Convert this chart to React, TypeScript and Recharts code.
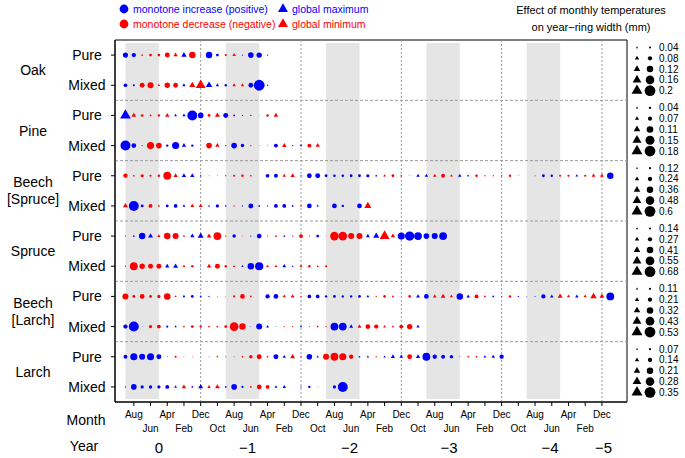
import React from 'react';
import { ScatterChart, Scatter, XAxis, YAxis, ReferenceArea, ReferenceLine } from 'recharts';

// ---------- categories / labels ----------
const groupNames = ['Oak', 'Pine', 'Beech\n[Spruce]', 'Spruce', 'Beech\n[Larch]', 'Larch'];
const standTypes = ['Pure', 'Mixed'];
const monthNames = ['Aug', 'Jun', 'Apr', 'Feb', 'Dec', 'Oct'];
const yearLabels = ['0', '\u22121', '\u22122', '\u22123', '\u22124', '\u22125'];
const yearPos = [3.0, 13.6, 25.8, 37.7, 49.8, 56.2]; // month index under which the year label sits
const legendValues = [
  [0.04, 0.08, 0.12, 0.16, 0.2],
  [0.04, 0.07, 0.11, 0.15, 0.18],
  [0.12, 0.24, 0.36, 0.48, 0.6],
  [0.14, 0.27, 0.41, 0.55, 0.68],
  [0.11, 0.21, 0.32, 0.43, 0.53],
  [0.07, 0.14, 0.21, 0.28, 0.35],
];
const FIRST_MONTH = -1; // months counted backwards from August of year 0
const summerBands = [[-1, 3], [11, 15], [23, 27], [35, 39], [47, 51]];
const decLines = [8, 20, 32, 44, 56];

// ---------- series (effect in mm, + increase / - decrease; 'o' monotone, '^' global extreme) ----------
const oakPure = [0.096, 0.08, -0.032, -0.052, -0.048, -0.092, -0.059, 0.074, -0.12, -0.024, 0.12, 0.052, -0.04, -0.047, 0.024, 0.104, 0.1, 0.024];
const oakPureShape = 'oooooo^^ooooo^oooo';
const oakMixed = [0.068, 0.04, -0.092, -0.112, -0.033, -0.1, -0.088, 0.045, -0.083, -0.136, 0.089, 0.045, 0.044, -0.047, -0.045, 0.088, 0.2, 0.024];
const oakMixedShape = 'oooo^oo^^^^^o^^ooo';
const pinePure = [0.133, -0.058, -0.043, -0.029, -0.04, -0.053, 0.035, 0.04, 0.166, 0.094, -0.047, -0.061, 0.083, 0.029, 0.022, 0.022, -0.014, -0.043, -0.056];
const pinePureShape = '^^ooo^^^ooo^oooooo^';
const pineMixed = [0.166, 0.079, -0.022, -0.119, -0.094, 0.04, 0.119, 0.053, 0.04, null, -0.094, -0.053, 0.022, 0.094, 0.058, -0.022, 0.014, 0.014, 0.065, -0.056, 0.022, 0.032, -0.065, -0.053];
const pineMixedShape = 'ooooooo^o.o^ooooooo^o^o^';
const beechSprucePure = [-0.24, -0.096, -0.18, -0.12, -0.132, -0.432, -0.178, 0.178, 0.178, 0.072, -0.048, -0.048, -0.072, -0.12, -0.132, -0.096, null, 0.204, 0.216, -0.142, -0.178, -0.072, 0.264, 0.276, 0.156, 0.144, 0.144, 0.156, 0.156, 0.18, 0.096, -0.115, -0.156, -0.096, -0.048, 0.142, 0.142, -0.142, -0.216, -0.115, 0.142, 0.096, -0.144, -0.072, -0.072, -0.072, -0.132, -0.048, null, -0.06, 0.156, 0.132, -0.12, -0.12, 0.115, -0.12, -0.16, -0.16, 0.36];
const beechSprucePureShape = 'oooooo^^^ooooooo.oo^^oooooooooo^ooo^^^o^^ooooooo.ooooo^o^^o';
const beechSpruceMixed = [-0.204, 0.552, 0.156, -0.216, -0.098, 0.156, 0.204, 0.115, -0.16, -0.16, 0.089, 0.18, 0.089, -0.072, 0.072, 0.276, 0.096, 0.072, 0.216, 0.216, 0.096, -0.089, 0.264, 0.098, null, 0.264, 0.132, null, 0.264, -0.293];
const beechSpruceMixedShape = '^ooo^oo^^^^o^oooooooo^o^.oo.o^';
const sprucePure = [0.068, 0.1, 0.408, 0.232, -0.151, -0.408, -0.381, -0.109, 0.201, 0.282, -0.212, -0.49, -0.082, 0.218, -0.054, 0.082, 0.299, -0.082, -0.111, 0.1, -0.082, -0.245, -0.082, 0.177, -0.054, -0.544, -0.544, -0.381, -0.381, 0.181, 0.282, -0.463, -0.201, 0.449, 0.585, 0.49, 0.354, 0.381, 0.49];
const sprucePureShape = 'o^o^^ooo^^^ooooooo^^ooooooooo^^^^oooooo';
const spruceMixed = [-0.082, -0.49, -0.34, -0.313, -0.313, 0.201, 0.232, -0.131, -0.15, 0.054, -0.201, -0.313, -0.15, -0.111, 0.111, 0.408, 0.517, -0.131, -0.131, 0.181, 0.082, -0.136, -0.15, -0.109, -0.136];
const spruceMixedShape = 'ooooo^^^oo^oo^^oo^^^ooooo';
const beechLarchPure = [-0.297, -0.138, -0.233, -0.138, -0.159, -0.318, -0.078, 0.102, 0.138, 0.085, 0.064, 0.042, -0.042, -0.106, -0.233, -0.085, null, 0.212, 0.233, -0.118, -0.141, -0.064, 0.18, 0.18, 0.117, 0.138, 0.117, 0.117, 0.138, 0.102, -0.064, -0.127, -0.085, null, -0.127, 0.141, 0.233, -0.133, -0.172, -0.118, 0.318, 0.126, -0.191, -0.085, 0.085, -0.064, -0.117, 0.064, 0.042, 0.053, 0.212, 0.126, -0.181, -0.118, 0.126, -0.118, -0.235, -0.181, 0.382];
const beechLarchPureShape = 'oooooo^^oooooooo.oo^^oooooooo^ooo.o^o^^^o^ooooooooo^^^^^^^o';
const beechLarchMixed = [0.212, 0.488, 0.042, -0.159, -0.191, 0.106, 0.087, -0.078, -0.138, -0.117, -0.085, -0.085, -0.138, -0.424, -0.318, 0.042, 0.297, 0.102, 0.042, -0.064, -0.064, 0.087, -0.053, -0.087, -0.064, 0.382, 0.382, 0.141, -0.141, -0.233, -0.212, -0.102, -0.087, -0.191, -0.265, 0.118];
const beechLarchMixedShape = 'oooooo^^ooooooooo^ooo^o^ooo^^oo^^oo^';
const larchPure = [0.126, 0.231, 0.196, 0.231, 0.161, 0.028, -0.07, -0.028, -0.028, null, 0.028, -0.052, -0.035, 0.028, -0.056, -0.112, -0.161, -0.056, 0.161, 0.078, -0.119, -0.042, 0.182, 0.057, -0.196, -0.252, -0.231, -0.14, 0.056, 0.057, -0.042, 0.057, 0.104, 0.093, -0.154, 0.104, 0.252, 0.14, 0.126, 0.112, 0.028, -0.056, -0.056, 0.067, 0.083, 0.14];
const larchPureShape = 'ooooooooo.o^ooooooo^^oo^ooooo^o^^^o^ooooooo^^o';
const larchMixed = [0.042, 0.182, 0.105, 0.112, 0.105, 0.126, 0.067, -0.104, 0.056, 0.119, -0.083, -0.114, 0.056, 0.182, 0.07, -0.056, -0.154, -0.119, 0.067, 0.083, null, 0.042, 0.077, -0.028, null, 0.105, 0.322];
const larchMixedShape = 'oooooo^^o^^^oooooo^^.ooo.oo';

const rowSeries: [(number | null)[], string][] = [
  [oakPure, oakPureShape], [oakMixed, oakMixedShape],
  [pinePure, pinePureShape], [pineMixed, pineMixedShape],
  [beechSprucePure, beechSprucePureShape], [beechSpruceMixed, beechSpruceMixedShape],
  [sprucePure, sprucePureShape], [spruceMixed, spruceMixedShape],
  [beechLarchPure, beechLarchPureShape], [beechLarchMixed, beechLarchMixedShape],
  [larchPure, larchPureShape], [larchMixed, larchMixedShape],
];

// ---------- layout ----------
const W = 685;
const H = 458;
const PL = 115, PR = 627, PT = 40, PB = 402;
const XMIN = -2.25, XMAX = 59;
const R_MAX = 5.4;
const BLUE = '#0000FF';
const RED = '#FF0000';
const FONT = "'Liberation Sans', Arial, Helvetica, sans-serif";

const xPix = (m: number) => PL + ((m - XMIN) / (XMAX - XMIN)) * (PR - PL);
const groupH = (PB - PT) / 6;

type Pt = { m: number; y: number; v: number; tri: boolean; g: number };
const points: Pt[] = [];
rowSeries.forEach(([vals, shp], r) => {
  vals.forEach((v, i) => {
    if (v === null || shp[i] === '.') return;
    points.push({ m: FIRST_MONTH + i, y: r + 0.5, v, tri: shp[i] === '^', g: Math.floor(r / 2) });
  });
});

const radiusFor = (v: number, g: number) => Math.max(0.4, (R_MAX * Math.abs(v)) / legendValues[g][4]);

const triPoints = (cx: number, cy: number, r: number) => {
  const a = 1.555 * r, b = 0.778 * r, c = 1.347 * r;
  return `${cx},${cy - a} ${cx + c},${cy + b} ${cx - c},${cy + b}`;
};

const Marker = (props: any) => {
  const { cx, cy, payload } = props;
  if (cx == null || cy == null || !payload) return <g />;
  const r = radiusFor(payload.v, payload.g);
  const col = payload.v > 0 ? BLUE : RED;
  if (payload.tri) return <polygon points={triPoints(cx, cy, r)} fill={col} />;
  return <circle cx={cx} cy={cy} r={r} fill={col} />;
};

const monthTicks = Array.from({ length: 29 }, (_, k) => 2 * k);
const rowTicks = Array.from({ length: 12 }, (_, k) => k + 0.5);

const MonthTick = (props: any) => {
  const { x, payload } = props;
  const k = Math.round(payload.value / 2);
  const lower = k % 2 === 1;
  return (
    <text x={x} y={lower ? 431.5 : 417.5} textAnchor="middle" fontSize={10} fontFamily={FONT} fill="#000">
      {monthNames[k % 6]}
    </text>
  );
};

const RowTick = (props: any) => {
  const { y, payload } = props;
  const idx = Math.round(payload.value - 0.5) % 2;
  return (
    <text x={87} y={y + 5} textAnchor="middle" fontSize={14} fontFamily={FONT} fill="#000">
      {standTypes[idx]}
    </text>
  );
};

export default function App() {
  return (
    <div style={{ position: 'absolute', left: 0, top: 0, width: W, height: H, background: '#fff' }}>
      <ScatterChart width={W} height={H} margin={{ top: PT, right: W - PR, bottom: 0, left: 0 }}>
        <XAxis
          type="number"
          dataKey="m"
          domain={[XMIN, XMAX]}
          ticks={monthTicks}
          interval={0}
          allowDataOverflow
          height={H - PB}
          tickSize={4}
          tick={<MonthTick />}
          stroke="#000"
          tickLine={{ stroke: '#000' }}
        />
        <YAxis
          type="number"
          dataKey="y"
          domain={[0, 12]}
          reversed
          ticks={rowTicks}
          interval={0}
          allowDataOverflow
          width={PL}
          tickSize={4}
          tick={<RowTick />}
          stroke="#000"
          tickLine={{ stroke: '#000' }}
        />
        {summerBands.map(([a, b], i) => (
          <ReferenceArea key={'band' + i} x1={a} x2={b} y1={0.1} y2={11.9} fill="#e5e5e5" fillOpacity={1} stroke="none" ifOverflow="visible" />
        ))}
        {decLines.map((m) => (
          <ReferenceLine key={'dl' + m} x={m} stroke="#9a9a9a" strokeDasharray="2 2" strokeWidth={1} />
        ))}
        {[2, 4, 6, 8, 10].map((y) => (
          <ReferenceLine key={'hl' + y} y={y} stroke="#9a9a9a" strokeDasharray="3 2" strokeWidth={1} />
        ))}
        <ReferenceArea x1={XMIN} x2={XMAX} y1={0} y2={12} fill="none" stroke="#000" strokeWidth={1} ifOverflow="visible" />
        <Scatter data={points} shape={Marker} isAnimationActive={false} />
      </ScatterChart>

      <svg width={W} height={H} style={{ position: 'absolute', left: 0, top: 0, pointerEvents: 'none' }} fontFamily={FONT}>
        {/* top legend */}
        <circle cx={124} cy={9} r={4.4} fill={BLUE} />
        <text x={133} y={13} fontSize={10.5} fill={BLUE}>monotone increase (positive)</text>
        <circle cx={124} cy={24} r={4.4} fill={RED} />
        <text x={133} y={28} fontSize={10.5} fill={RED}>monotone decrease (negative)</text>
        <polygon points={triPoints(283, 9, 3.7)} fill={BLUE} />
        <text x={292} y={13} fontSize={10.5} fill={BLUE}>global maximum</text>
        <polygon points={triPoints(283, 24, 3.7)} fill={RED} />
        <text x={292} y={28} fontSize={10.5} fill={RED}>global minimum</text>
        {/* title */}
        <text x={591} y={14} fontSize={11} textAnchor="middle" fill="#000">Effect of monthly temperatures</text>
        <text x={591} y={31} fontSize={11} textAnchor="middle" fill="#000">on year{'\u2212'}ring width (mm)</text>
        {/* group labels */}
        {groupNames.map((name, g) => {
          const cy = PT + groupH * g + groupH / 2;
          const lines = name.split('\n');
          return (
            <text key={name} x={33} textAnchor="middle" fontSize={14} fill="#000">
              {lines.map((ln, i) => (
                <tspan key={i} x={33} y={cy + 5 + (i - (lines.length - 1) / 2) * 17}>{ln}</tspan>
              ))}
            </text>
          );
        })}
        {/* axis titles */}
        <text x={86} y={425} fontSize={14} textAnchor="middle" fill="#000">Month</text>
        <text x={84} y={451} fontSize={14} textAnchor="middle" fill="#000">Year</text>
        {yearLabels.map((t, i) => (
          <text key={t} x={xPix(yearPos[i])} y={453} fontSize={15} textAnchor="middle" fill="#000">{t}</text>
        ))}
        {/* size legends */}
        {legendValues.map((vals, g) => {
          const top = PT + groupH * g;
          return (
            <g key={'lg' + g}>
              {vals.map((v, k) => {
                const y = top + 7.5 + 10.8 * k;
                const r = radiusFor(v, g);
                return (
                  <g key={k}>
                    <polygon points={triPoints(637, y, r * 0.75)} fill="#000" />
                    <circle cx={650} cy={y} r={r} fill="#000" />
                    <text x={659} y={y + 3.5} fontSize={10} fill="#000">{String(v)}</text>
                  </g>
                );
              })}
            </g>
          );
        })}
      </svg>
    </div>
  );
}
